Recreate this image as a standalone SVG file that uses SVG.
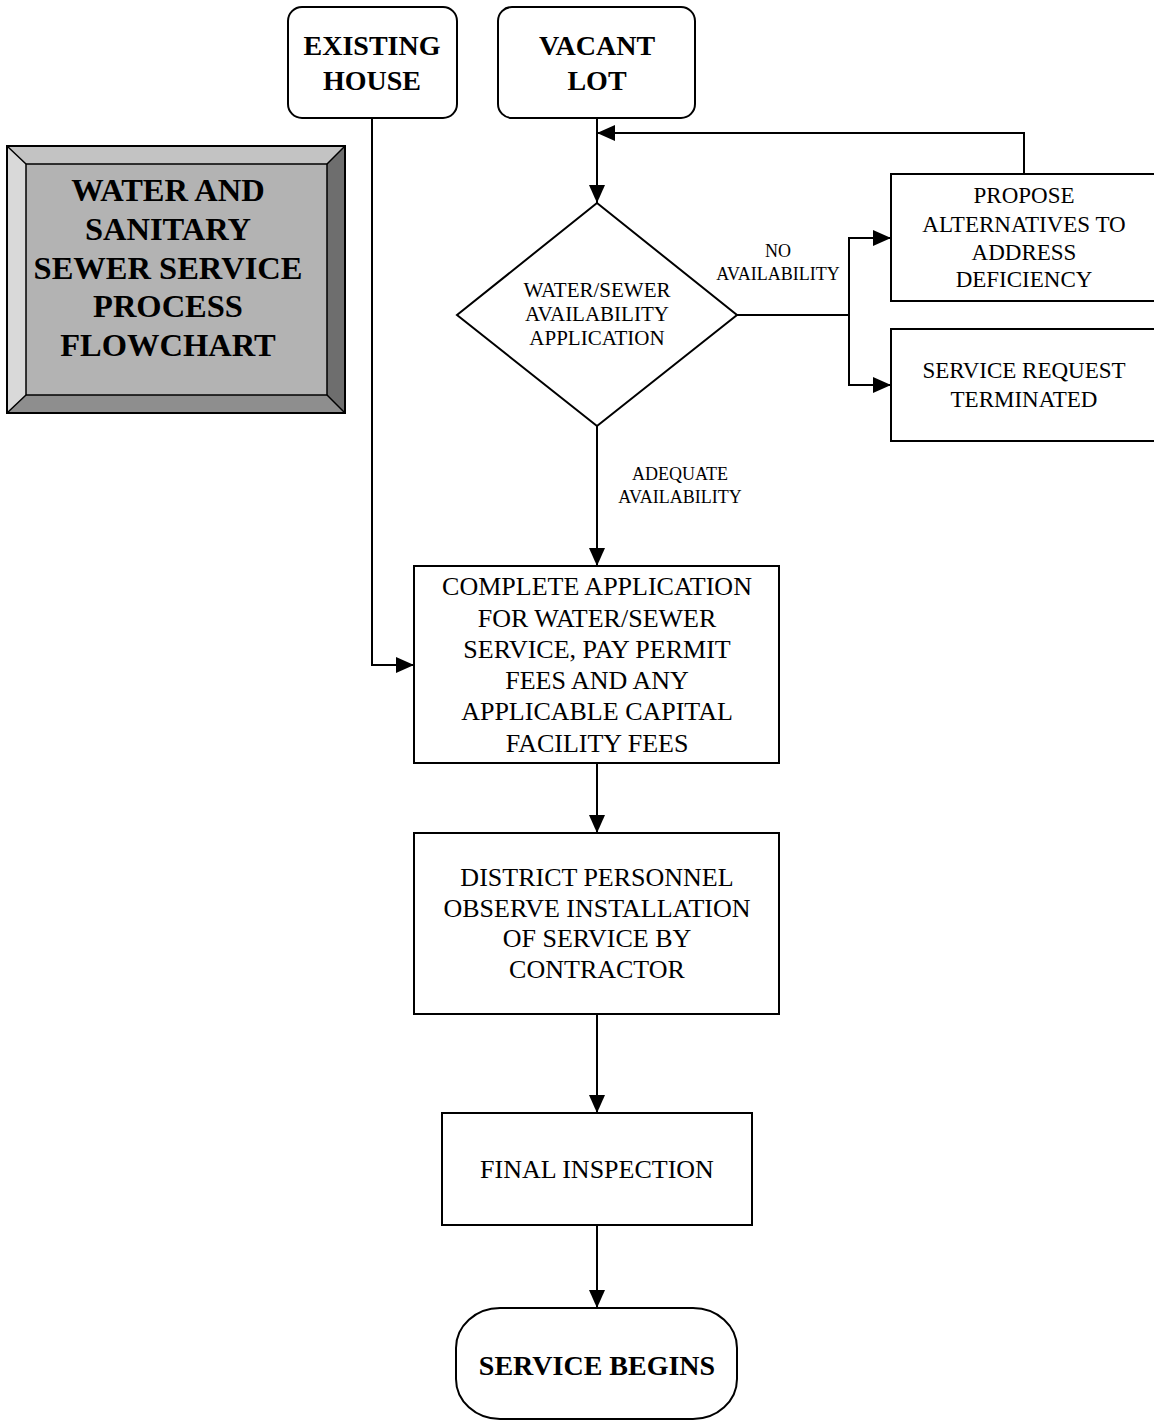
<svg xmlns="http://www.w3.org/2000/svg" width="1154" height="1421" viewBox="0 0 1154 1421">
<style>
  .box { fill: #ffffff; stroke: #000000; stroke-width: 2; }
  .conn { fill: none; stroke: #000000; stroke-width: 2; }
  .t { font-family: "Liberation Serif", "Times New Roman", serif; fill: #000000; text-anchor: middle; }
  .bold { font-weight: bold; }
  .title { font-size: 32.5px; font-weight: bold; }
  .big { font-size: 28px; }
  .main { font-size: 26px; }
  .side { font-size: 23px; }
  .dia { font-size: 21px; }
  .lbl { font-size: 18px; }
</style>
<defs>
  <marker id="arrow" markerUnits="userSpaceOnUse" markerWidth="18" markerHeight="16" refX="18" refY="8" orient="auto">
    <path d="M0,0 L18,8 L0,16 z" fill="#000000"/>
  </marker>
</defs>
<rect width="1154" height="1421" fill="#ffffff"/>

<g id="title">
  <polygon points="7,146 345,146 327,164 26,164" fill="#c3c3c3"/>
  <polygon points="7,146 26,164 26,395 7,413" fill="#d9d9d9"/>
  <polygon points="345,146 345,413 327,395 327,164" fill="#6e6e6e"/>
  <polygon points="7,413 26,395 327,395 345,413" fill="#8e8e8e"/>
  <rect x="26" y="164" width="301" height="231" fill="#b3b3b3" stroke="#000" stroke-width="1.5"/>
  <rect x="7" y="146" width="338" height="267" fill="none" stroke="#000" stroke-width="2"/>
  <path d="M7,146 L26,164 M345,146 L327,164 M7,413 L26,395 M345,413 L327,395" stroke="#000" stroke-width="1.5" fill="none"/>
  <text class="t title" x="168" y="201">WATER AND</text>
  <text class="t title" x="168" y="240">SANITARY</text>
  <text class="t title" x="168" y="279">SEWER SERVICE</text>
  <text class="t title" x="168" y="317">PROCESS</text>
  <text class="t title" x="168" y="356">FLOWCHART</text>
</g>

<g id="existing-house">
  <rect class="box" x="288" y="7" width="169" height="111" rx="14" ry="14"/>
  <text class="t big bold" x="372" y="55">EXISTING</text>
  <text class="t big bold" x="372" y="90">HOUSE</text>
</g>

<g id="vacant-lot">
  <rect class="box" x="498" y="7" width="197" height="111" rx="14" ry="14"/>
  <text class="t big bold" x="597" y="55">VACANT</text>
  <text class="t big bold" x="597" y="90">LOT</text>
</g>

<g id="availability">
  <polygon class="box" points="597,203 737,315 597,426 457,315"/>
  <text class="t dia" x="597" y="297">WATER/SEWER</text>
  <text class="t dia" x="597" y="321">AVAILABILITY</text>
  <text class="t dia" x="597" y="345">APPLICATION</text>
</g>

<g id="propose">
  <rect class="box" x="891" y="174" width="266" height="127"/>
  <text class="t side" x="1024" y="203">PROPOSE</text>
  <text class="t side" x="1024" y="232">ALTERNATIVES TO</text>
  <text class="t side" x="1024" y="260">ADDRESS</text>
  <text class="t side" x="1024" y="287">DEFICIENCY</text>
</g>

<g id="terminated">
  <rect class="box" x="891" y="329" width="266" height="112"/>
  <text class="t side" x="1024" y="378">SERVICE REQUEST</text>
  <text class="t side" x="1024" y="407">TERMINATED</text>
</g>

<g id="complete-application">
  <rect class="box" x="414" y="566" width="365" height="197"/>
  <text class="t main" x="597" y="595">COMPLETE APPLICATION</text>
  <text class="t main" x="597" y="627">FOR WATER/SEWER</text>
  <text class="t main" x="597" y="658">SERVICE, PAY PERMIT</text>
  <text class="t main" x="597" y="689">FEES AND ANY</text>
  <text class="t main" x="597" y="720">APPLICABLE CAPITAL</text>
  <text class="t main" x="597" y="752">FACILITY FEES</text>
</g>

<g id="district-personnel">
  <rect class="box" x="414" y="833" width="365" height="181"/>
  <text class="t main" x="597" y="886">DISTRICT PERSONNEL</text>
  <text class="t main" x="597" y="917">OBSERVE INSTALLATION</text>
  <text class="t main" x="597" y="947">OF SERVICE BY</text>
  <text class="t main" x="597" y="978">CONTRACTOR</text>
</g>

<g id="final-inspection">
  <rect class="box" x="442" y="1113" width="310" height="112"/>
  <text class="t main" x="597" y="1178">FINAL INSPECTION</text>
</g>

<g id="service-begins">
  <rect class="box" x="456" y="1308" width="281" height="111" rx="44" ry="40"/>
  <text class="t big bold" x="597" y="1375">SERVICE BEGINS</text>
</g>

<g id="connectors">
  <path class="conn" d="M597,118 L597,203" marker-end="url(#arrow)"/>
  <path class="conn" d="M1024,174 L1024,133 L597,133" marker-end="url(#arrow)"/>
  <path class="conn" d="M737,315 L849,315 L849,238 L891,238" marker-end="url(#arrow)"/>
  <path class="conn" d="M849,315 L849,385 L891,385" marker-end="url(#arrow)"/>
  <path class="conn" d="M597,426 L597,566" marker-end="url(#arrow)"/>
  <path class="conn" d="M372,118 L372,665 L414,665" marker-end="url(#arrow)"/>
  <path class="conn" d="M597,763 L597,833" marker-end="url(#arrow)"/>
  <path class="conn" d="M597,1014 L597,1113" marker-end="url(#arrow)"/>
  <path class="conn" d="M597,1225 L597,1308" marker-end="url(#arrow)"/>
  <text class="t lbl" x="778" y="257">NO</text>
  <text class="t lbl" x="778" y="280">AVAILABILITY</text>
  <text class="t lbl" x="680" y="480">ADEQUATE</text>
  <text class="t lbl" x="680" y="503">AVAILABILITY</text>
</g>
</svg>
